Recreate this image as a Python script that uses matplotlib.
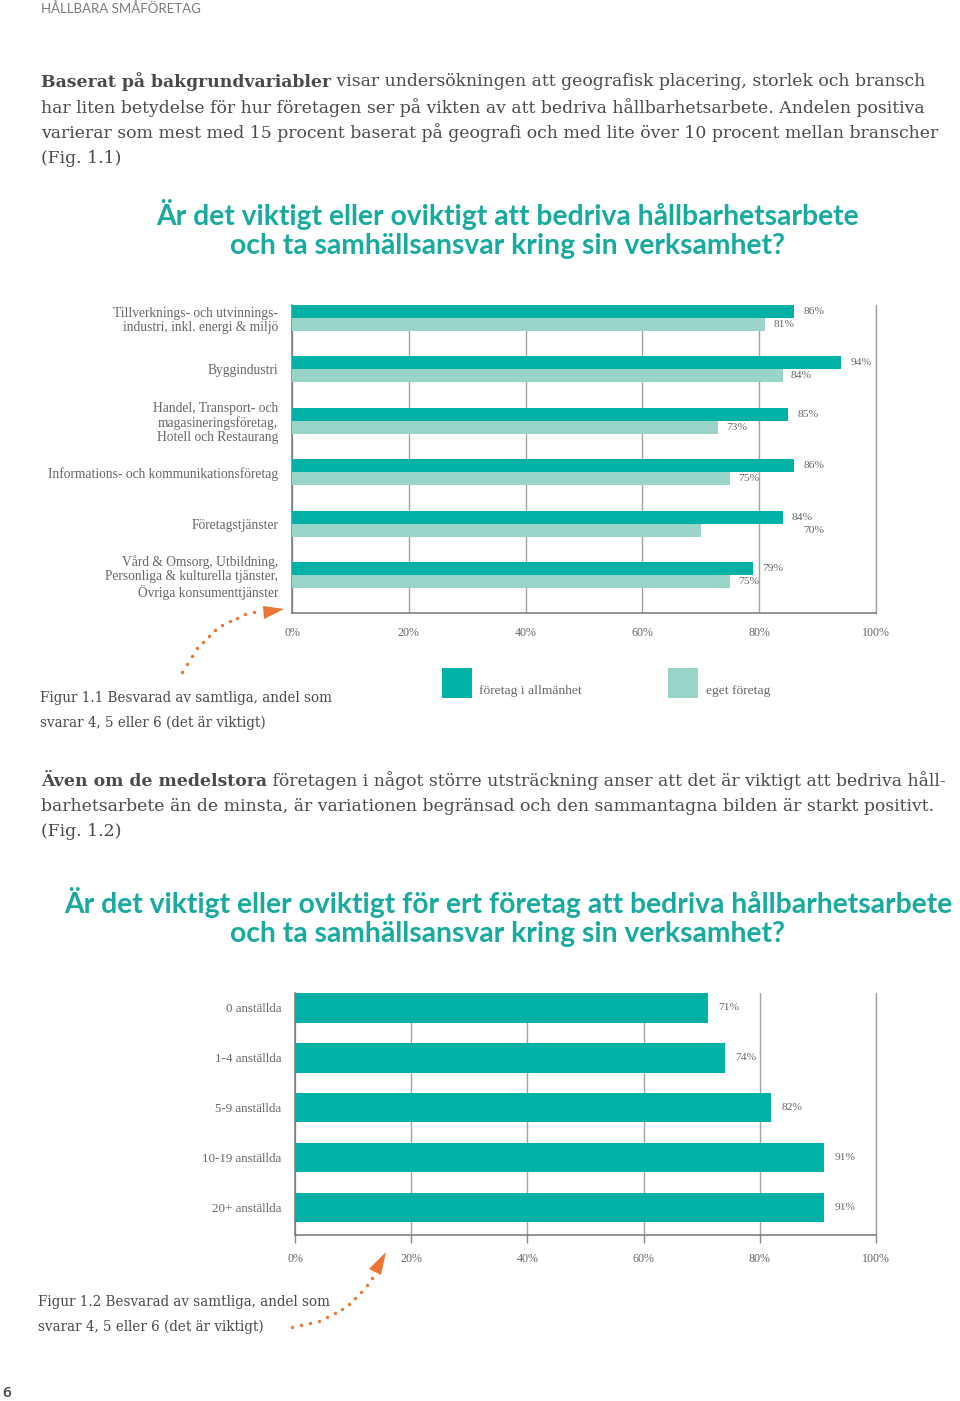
import numpy as np
import matplotlib
matplotlib.use("Agg")
from matplotlib import pyplot as plt
from matplotlib.patches import Rectangle, Polygon

# Figur 1.1 - per bransch
branscher = [
    "Tillverknings- och utvinnings-\nindustri, inkl. energi & miljö",
    "Byggindustri",
    "Handel, Transport- och\nmagasineringsföretag,\nHotell och Restaurang",
    "Informations- och kommunikationsföretag",
    "Företagstjänster",
    "Vård & Omsorg, Utbildning,\nPersonliga & kulturella tjänster,\nÖvriga konsumenttjänster",
]
allmanhet = [86, 94, 85, 86, 84, 79]
eget = [81, 84, 73, 75, 70, 75]
serier = ["företag i allmänhet", "eget företag"]

# Figur 1.2 - per storlek
storlekar = ["0 anställda", "1-4 anställda", "5-9 anställda", "10-19 anställda", "20+ anställda"]
andel = [71, 74, 82, 91, 91]

ticks = [0, 20, 40, 60, 80, 100]
tick_labels = [f"{t}%" for t in ticks]

stycke1 = [
    "har liten betydelse för hur företagen ser på vikten av att bedriva hållbarhetsarbete. Andelen positiva",
    "varierar som mest med 15 procent baserat på geografi och med lite över 10 procent mellan branscher",
    "(Fig. 1.1)",
]
stycke2 = [
    "barhetsarbete än de minsta, är variationen begränsad och den sammantagna bilden är starkt positivt.",
    "(Fig. 1.2)",
]
titel1 = ["Är det viktigt eller oviktigt att bedriva hållbarhetsarbete",
          "och ta samhällsansvar kring sin verksamhet?"]
titel2 = ["Är det viktigt eller oviktigt för ert företag att bedriva hållbarhetsarbete",
          "och ta samhällsansvar kring sin verksamhet?"]
figurtext1 = ["Figur 1.1 Besvarad av samtliga, andel som", "svarar 4, 5 eller 6 (det är viktigt)"]
figurtext2 = ["Figur 1.2 Besvarad av samtliga, andel som", "svarar 4, 5 eller 6 (det är viktigt)"]

MORK = "#00b1a5"
LJUS = "#98d5c8"
TITEL = "#17aa9f"
TEXT = "#4a4a4a"
GRA = "#666666"
ORANGE = "#ee7431"
SERIF = "DejaVu Serif"
SMAL = "Liberation Serif"   # smalare serif till diagramtexterna
SANS = "Lato"

fig = plt.figure(figsize=(9.6, 14.01), dpi=100)
renderer = fig.canvas.get_renderer()

# hela sidan i pixelkoordinater
page = fig.add_axes([0, 0, 1, 1])
page.set_xlim(0, 960)
page.set_ylim(1401, 0)
page.axis("off")


def fit(txt, bredd, **kw):
    # fontstorlek så att texten blir ungefär lika bred som i originalet
    t = page.text(0, 0, txt, fontsize=10, **kw)
    w = t.get_window_extent(renderer).width
    t.remove()
    return 10 * bredd / w


def px_axes(left, top, right, bottom):
    return fig.add_axes([left / 960, 1 - bottom / 1401, (right - left) / 960, (bottom - top) / 1401])


fs_body = fit(stycke1[0], 889, family=SERIF)
fs_title = fit(titel2[0], 890, family=SANS, weight="bold")
fs_cat = fit("Informations- och kommunikationsföretag", 230, family=SMAL)
fs_cat2 = fit("10-19 anställda", 80, family=SMAL)
fs_cap = fit(figurtext1[0], 294, family=SERIF)
fs_leg = fit(serier[0], 102, family=SMAL)
fs_tick = fit("100%", 28, family=SMAL)
fs_val = fit("86%", 21, family=SMAL)

# sidhuvud och sidnummer
page.text(41, 9, "HÅLLBARA SMÅFÖRETAG", fontsize=9.5, family=SANS, color="#7a7a7a", va="center")
page.text(2, 1393, "6", fontsize=11, family="Open Sans", weight="semibold", color="#444444", va="center")


def stycke(y0, fet, resten, rader):
    b = page.text(41, y0, fet, fontsize=fs_body, family=SERIF, weight="bold", color=TEXT, va="center")
    page.annotate(resten, xy=(1, 0.5), xycoords=b, fontsize=fs_body, family=SERIF,
                  color=TEXT, va="center")
    for i, rad in enumerate(rader):
        page.text(41, y0 + (i + 1) * 25.4, rad, fontsize=fs_body, family=SERIF, color=TEXT, va="center")


stycke(82, "Baserat på bakgrundvariabler",
       " visar undersökningen att geografisk placering, storlek och bransch", stycke1)
stycke(781, "Även om de medelstora",
       " företagen i något större utsträckning anser att det är viktigt att bedriva håll-", stycke2)

for i, rad in enumerate(titel1):
    page.text(508, 214 + i * 32, rad, fontsize=fs_title, family=SANS, weight="bold",
              color=TITEL, ha="center", va="center")
for i, rad in enumerate(titel2):
    page.text(508, 902 + i * 32, rad, fontsize=fs_title, family=SANS, weight="bold",
              color=TITEL, ha="center", va="center")

for i, rad in enumerate(figurtext1):
    page.text(40, 698 + i * 25, rad, fontsize=fs_cap, family=SERIF, color=TEXT, va="center")
for i, rad in enumerate(figurtext2):
    page.text(38, 1302 + i * 25, rad, fontsize=fs_cap, family=SERIF, color=TEXT, va="center")

# legend
page.add_patch(Rectangle((442, 668), 30, 30, color=MORK, lw=0))
page.text(479, 691, serier[0], fontsize=fs_leg, family=SMAL, color=GRA, va="center")
page.add_patch(Rectangle((668, 668), 30, 30, color=LJUS, lw=0))
page.text(706, 691, serier[1], fontsize=fs_leg, family=SMAL, color=GRA, va="center")


def prickpil(start, kontroll, slut, spets, n):
    t = np.linspace(0, 1, n)[:, None]
    p0, p1, p2 = np.array(start), np.array(kontroll), np.array(slut)
    pts = (1 - t) ** 2 * p0 + 2 * (1 - t) * t * p1 + t ** 2 * p2
    page.scatter(pts[:, 0], pts[:, 1], s=6, color=ORANGE, lw=0)
    page.add_patch(Polygon(spets, closed=True, color=ORANGE, lw=0))


prickpil((182, 672), (206, 624), (254, 612), [(263, 606), (264, 619), (284, 609)], 12)
prickpil((292, 1327), (345, 1320), (372, 1278), [(369, 1269), (381, 1275), (386, 1252)], 12)


def stil(ax, pad_y, fs_y):
    ax.set_facecolor("none")
    ax.set_xlim(0, 100)
    ax.set_xticks(ticks)
    ax.set_xticklabels(tick_labels, fontsize=fs_tick, family=SMAL, color=GRA)
    ax.grid(axis="x", color="#a3a3a3", lw=1.0, zorder=0)
    ax.set_axisbelow(True)
    ax.spines["top"].set_visible(False)
    ax.spines["right"].set_color("#a3a3a3")
    ax.spines["right"].set_linewidth(1.0)
    for s in ["left", "bottom"]:
        ax.spines[s].set_color("#777777")
        ax.spines[s].set_linewidth(1.1)
    ax.tick_params(axis="y", length=0, pad=pad_y)
    for lbl in ax.get_yticklabels():
        lbl.set_fontsize(fs_y)
        lbl.set_family(SMAL)
        lbl.set_color(GRA)
        lbl.set_linespacing(1.15)


# Figur 1.1
ax1 = px_axes(292, 305, 876, 613)
idx = np.arange(len(branscher))
h = 0.253
ax1.barh(idx - h / 2, allmanhet, height=h, color=MORK, zorder=3)
ax1.barh(idx + h / 2, eget, height=h, color=LJUS, zorder=3)
ax1.set_yticks(idx)
ax1.set_yticklabels(branscher)
ax1.set_ylim(5.74, -0.253)
stil(ax1, 10, fs_cat)
ax1.tick_params(axis="x", length=0, pad=10.4)
for i in idx:
    ax1.text(allmanhet[i] + 1.6, i - h / 2, f"{allmanhet[i]}%", fontsize=fs_val,
             family=SMAL, color=GRA, va="center")
    lx = eget[i] + 1.4
    if i == 4:
        # i originalet står 70% under 84%-etiketten
        lx = allmanhet[i] + 3.6
    ax1.text(lx, i + h / 2, f"{eget[i]}%", fontsize=fs_val, family=SMAL, color=GRA, va="center")

# Figur 1.2
ax2 = px_axes(295, 993, 876, 1235)
idx2 = np.arange(len(storlekar))
ax2.barh(idx2, andel, height=0.59, color=MORK, zorder=3)
ax2.set_yticks(idx2)
ax2.set_yticklabels(storlekar)
ax2.set_ylim(4.55, -0.3)
stil(ax2, 10, fs_cat2)
ax2.tick_params(axis="x", length=5.8, width=1.0, color="#888888", pad=6.8)
for i in idx2:
    ax2.text(andel[i] + 1.8, i, f"{andel[i]}%", fontsize=fs_val, family=SMAL, color=GRA, va="center")

fig.savefig("out.png", dpi=100)
